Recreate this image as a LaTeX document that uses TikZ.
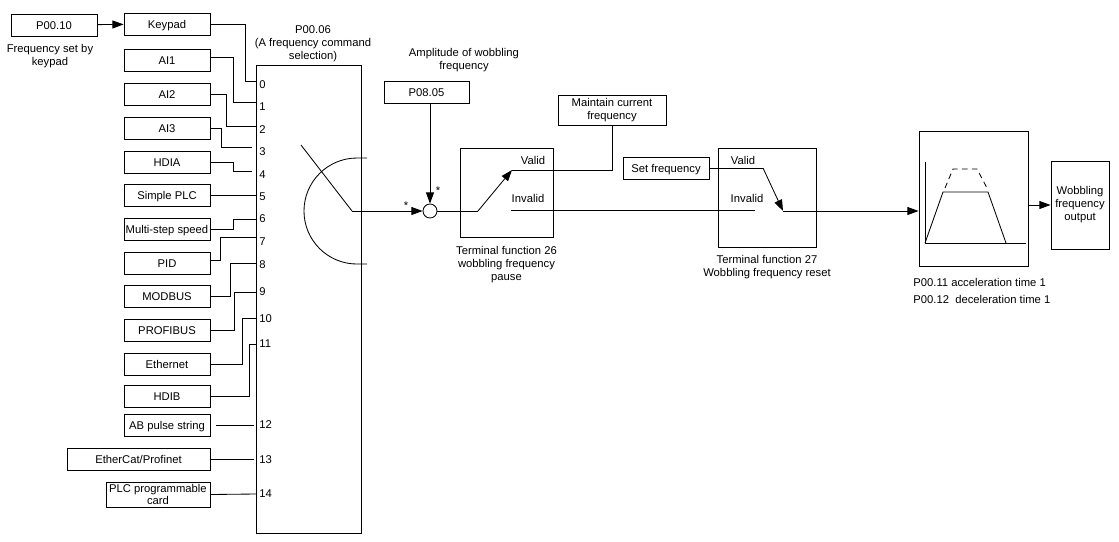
\documentclass[tikz,border=0pt]{standalone}
\usepackage{fontspec}
\setmainfont{Liberation Sans}
\usetikzlibrary{positioning, arrows.meta}

\begin{document}
\begin{tikzpicture}[
    x=0.025cm, y=-0.025cm,
    line width=0.6pt,
    every node/.style={font=\fontsize{8}{9.2}\selectfont},
    block/.style={rectangle, draw, inner sep=1pt, minimum height=0.55cm, text centered},
    source/.style={block, minimum width=2.15cm, text height=5.8pt, text depth=0pt},
    num/.style={anchor=west, inner sep=0pt},
    caption/.style={align=center, inner sep=0pt},
    star/.style={inner sep=0pt, font=\fontsize{8}{8}\selectfont},
    arrow/.style={-{Triangle[length=0.28cm, width=0.2cm]}},
    sumnode/.style={circle, draw, minimum size=0.35cm, inner sep=0pt}
]
\useasboundingbox (0,0) rectangle (1119,541);

% Keypad setting
\node[source] (p0010) at (54,25) {P00.10};
\node[source] (keypad) at (167,24) {Keypad};
\node[caption] (kplabel) at (50,56.5) {Frequency set by\\keypad};
\draw[arrow] (p0010) -- (keypad);

% Frequency sources
\node[source] (ai1) at (167,60) {AI1};
\node[source] (ai2) at (167,94) {AI2};
\node[source] (ai3) at (167,128) {AI3};
\node[source] (hdia) at (167,162) {HDIA};
\node[source] (splc) at (167,195) {Simple PLC};
\node[source] (mss) at (167,229) {Multi-step speed};
\node[source] (pid) at (167,263) {PID};
\node[source] (modbus) at (167,296) {MODBUS};
\node[source] (profibus) at (167,330) {PROFIBUS};
\node[source] (ether) at (167,364) {Ethernet};
\node[source] (hdib) at (167,396) {HDIB};
\node[source] (abp) at (167,425) {AB pulse string};
\node[source, minimum width=3.575cm] (ecat) at (138.5,459) {EtherCat/Profinet};
\node[block, minimum width=2.6cm, minimum height=0.625cm, inner sep=0pt, align=center] (plccard) at (158,494.5) {PLC programmable\\card};

% Selector P00.06
\node[block, minimum width=2.625cm, minimum height=11.7cm] (sel) at (308.5,299) {};
\node[caption] (seltitle) at (313,44) {P00.06\\(A frequency command\\selection)};
\foreach \n/\px/\py/\ly in {0/256/81/85, 1/256/102/107, 2/256/126/130, 3/252/147/152,
    4/252/171/175, 5/256/195/197, 6/256/219/219, 7/256/237/242, 8/256/263/265,
    9/256/292/292, 10/256/318/319, 11/256/344/344, 12/254/425/425, 13/254/459/460, 14/256/494/494}{
  \coordinate (p\n) at (\px,\py);
  \node[num] (n\n) at (259,\ly) {\n};
}

% Source lines
\draw (keypad.east) -- ++(35,0) |- (p0);
\draw ([yshift=0.07cm]ai1.east) -- ++(23,0) |- (p1);
\draw (ai2.east) -- ++(16,0) |- (p2);
\draw (ai3.east) -- ++(11,0) |- (p3);
\draw (hdia.east) -- ++(23,0) |- (p4);
\draw (splc.east) -- (p5);
\draw (mss.east) -- ++(23,0) |- (p6);
\draw ([yshift=0.07cm]pid.east) -- ++(10,0) |- (p7);
\draw (modbus.east) -- ++(20,0) |- (p8);
\draw (profibus.east) -- ++(24,0) |- (p9);
\draw (ether.east) -- ++(32,0) |- (p10);
\draw (hdib.east) -- ++(39,0) |- (p11);
\draw ([xshift=0.15cm]abp.east) -- (p12);
\draw (ecat.east) -- (p13);
\draw (plccard.east) -- (p14);

% Switch
\coordinate (swtip) at (301,145);
\coordinate (swpivot) at (352,211);
\draw (swtip) -- (swpivot);
\draw (367,158) -- (357,158) arc[start angle=90, end angle=270, radius=1.325cm] -- (367,264);

% Wobbling amplitude
\node[caption] (amplabel) at (464,60.5) {Amplitude of wobbling\\frequency};
\node[source, minimum width=2.125cm] (amp) at (426.5,92) {P08.05};
\node[sumnode] (sum) at (430,211) {};
\draw[arrow] (swpivot) -- (sum);
\draw[arrow] (amp.south -| sum) -- (sum);
\node[star] at (406,206) {*};
\node[star] at (438,191) {*};

% Terminal function 26
\node[block, minimum width=2.325cm, minimum height=2.225cm] (t26) at (506.5,192.5) {};
\node[caption, below=0.22cm of t26] (t26label) {Terminal function 26\\wobbling frequency\\pause};
\node[inner sep=0pt] (valid26) at (533,160) {Valid};
\node[inner sep=0pt] (invalid26) at (528,198) {Invalid};
\node[block, minimum width=2.7cm, minimum height=0.75cm, inner sep=0pt, align=center] (maintain) at (612,110) {Maintain current\\frequency};
\coordinate (s26in) at (478,211);
\coordinate (s26out) at (512,170);
\draw (sum) -- (s26in);
\draw[arrow] (s26in) -- (s26out);
\draw (s26out) -| (maintain.south);
\coordinate (inv26) at (511,210);
\coordinate (inv27) at (755,210);
\draw (inv26) -- (inv27);

% Terminal function 27
\node[source] (setf) at (666,168) {Set frequency};
\node[block, minimum width=2.45cm, minimum height=2.475cm] (t27) at (767,197.5) {};
\node[caption, below=0.18cm of t27] (t27label) {Terminal function 27\\Wobbling frequency reset};
\node[inner sep=0pt] (valid27) at (743,160) {Valid};
\node[inner sep=0pt] (invalid27) at (747,198) {Invalid};
\coordinate (s27a) at (763,168);
\coordinate (s27b) at (783,211);
\draw (setf.east) -- (s27a);
\draw[arrow] (s27a) -- (s27b);

% Acceleration / deceleration
\node[block, minimum width=2.725cm, minimum height=3.375cm] (ramp) at (973.5,198.5) {};
\draw[arrow] (s27b) -- (s27b -| ramp.west);
\draw (925,162) -- (925,243) -- (1026,243);
\draw (925,243) -- (943,192) -- (988,192) -- (1006,243);
\draw[dash pattern=on 4pt off 3pt] (945,188) -- (953,169) -- (977,169) -- (987,188);
\node[anchor=west, inner sep=0pt] (acc) at (913,282) {P00.11 acceleration time 1};
\node[anchor=west, inner sep=0pt] (dec) at (913,299) {P00.12\ \ deceleration time 1};

% Output
\node[block, minimum width=1.45cm, minimum height=2.2cm, inner sep=0pt, align=center] (out) at (1080,205) {Wobbling\\frequency\\output};
\draw[arrow] (out.west -| ramp.east) -- (out.west);
\end{tikzpicture}
\end{document}
